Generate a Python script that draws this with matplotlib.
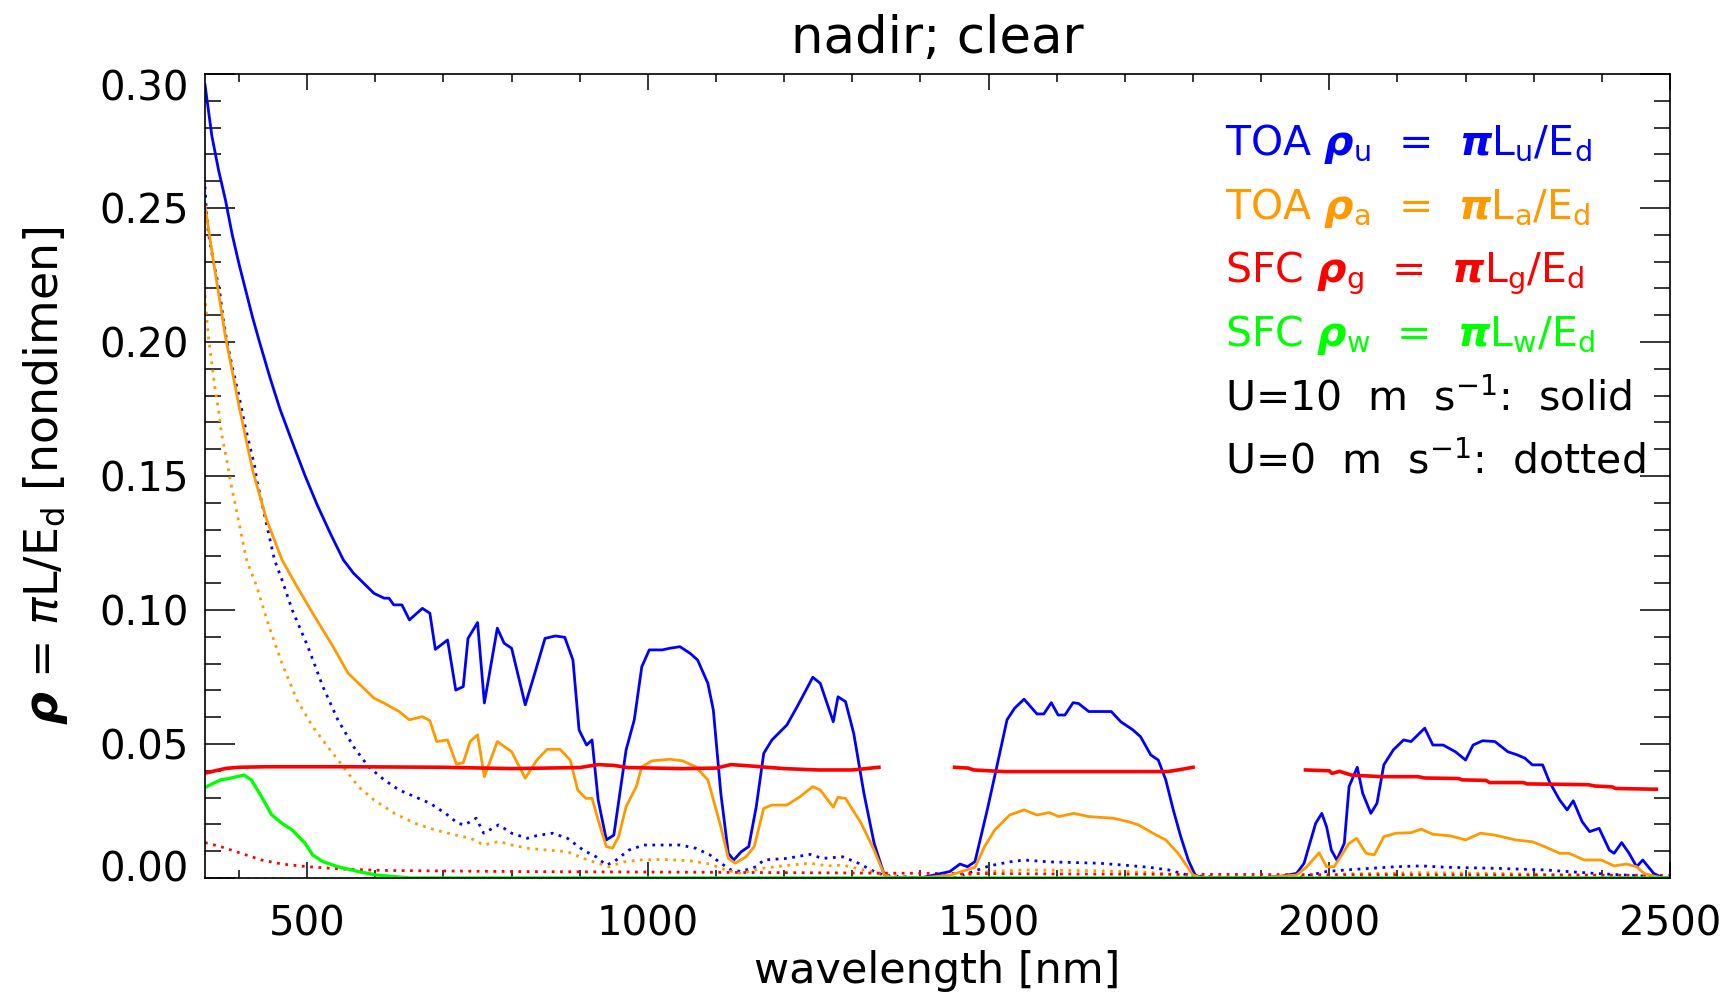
import numpy as np
import matplotlib
matplotlib.use("Agg")
import matplotlib.pyplot as plt
from matplotlib import ticker
from matplotlib.transforms import ScaledTranslation

plt.rcParams['font.family'] = ['DejaVu Sans']
plt.rcParams['mathtext.fontset'] = 'dejavusans'

# U=10 m/s (solid)
toa_u_nm = [350, 360, 370, 380, 390, 400, 410, 420, 430, 445, 460, 479, 497, 515, 535,
            553, 568, 598, 613, 620, 627, 639, 650, 669, 680, 688, 706, 718, 729, 736, 750,
            760, 779, 789, 800, 820, 834, 849, 864, 878, 890, 899, 910, 918, 927, 939, 950,
            968, 980, 991, 1002, 1021, 1032, 1047, 1062, 1073, 1088, 1096, 1107, 1118, 1126,
            1137, 1148, 1159, 1170, 1182, 1204, 1219, 1242, 1253, 1272, 1279, 1290, 1302, 1317,
            1332, 1347, 1360, 1400, 1443, 1458, 1469, 1480, 1498, 1512, 1527, 1538, 1552, 1571,
            1581, 1592, 1602, 1612, 1624, 1632, 1647, 1680, 1694, 1712, 1723, 1738, 1749, 1760,
            1771, 1782, 1793, 1803, 1814, 1900, 1931, 1952, 1963, 1970, 1980, 1989, 1996, 2003,
            2011, 2022, 2029, 2041, 2049, 2061, 2070, 2080, 2094, 2109, 2120, 2140, 2152, 2167,
            2185, 2200, 2211, 2225, 2243, 2262, 2276, 2287, 2298, 2313, 2323, 2338, 2349, 2358,
            2371, 2382, 2396, 2411, 2418, 2429, 2440, 2451, 2460, 2476, 2490, 2500]
toa_u = [0.296, 0.277, 0.264, 0.253, 0.240, 0.229, 0.219, 0.209, 0.200, 0.187, 0.175,
         0.162, 0.150, 0.139, 0.128, 0.1187, 0.1137, 0.1062, 0.1044, 0.1044, 0.1019, 0.1019,
         0.0963, 0.1006, 0.0988, 0.0853, 0.0888, 0.0701, 0.0714, 0.0894, 0.0953, 0.0653,
         0.0932, 0.0876, 0.0857, 0.0646, 0.0764, 0.0894, 0.0903, 0.0898, 0.0813, 0.0552,
         0.0496, 0.0515, 0.0291, 0.0142, 0.0160, 0.0478, 0.0590, 0.0788, 0.0851, 0.0851,
         0.0857, 0.0863, 0.0838, 0.0813, 0.0726, 0.0627, 0.0316, 0.0092, 0.0067, 0.0098,
         0.0117, 0.0266, 0.0465, 0.0515, 0.0571, 0.0639, 0.0749, 0.0726, 0.0583, 0.0676,
         0.0658, 0.0540, 0.0316, 0.0129, 0.0011, 0.0, 0.0, 0.0024, 0.0052, 0.0042, 0.0061,
         0.0254, 0.0415, 0.0590, 0.0633, 0.0667, 0.0612, 0.0612, 0.0654, 0.0608, 0.0608,
         0.0654, 0.0651, 0.0621, 0.0621, 0.0583, 0.0552, 0.0527, 0.0459, 0.0440, 0.0366,
         0.0254, 0.0154, 0.0067, 0.0011, 0.0, 0.0, 0.0007, 0.0017, 0.0055, 0.0117, 0.0204,
         0.0241, 0.0191, 0.0104, 0.0067, 0.0129, 0.0341, 0.0413, 0.0316, 0.0241, 0.0279,
         0.0422, 0.0478, 0.0515, 0.0509, 0.0559, 0.0496, 0.0496, 0.0471, 0.0440, 0.0496,
         0.0512, 0.0509, 0.0471, 0.0459, 0.0447, 0.0422, 0.0422, 0.0359, 0.0291, 0.0254,
         0.0288, 0.0210, 0.0173, 0.0185, 0.0104, 0.0092, 0.0132, 0.0092, 0.0042, 0.0067,
         0.0017, 0.0, 0.0]

toa_a_nm = [350, 360, 370, 380, 390, 400, 410, 420, 440, 463, 485, 508, 538, 560,
            598, 613, 635, 650, 669, 680, 690, 706, 719, 729, 739, 750, 760, 779, 800, 820,
            837, 852, 871, 886, 897, 909, 918, 927, 939, 948, 957, 968, 983, 991, 1006, 1032,
            1051, 1070, 1088, 1107, 1118, 1128, 1144, 1156, 1170, 1182, 1204, 1223, 1242, 1253,
            1272, 1279, 1290, 1313, 1332, 1347, 1360, 1400, 1443, 1480, 1494, 1509, 1531, 1552,
            1571, 1589, 1603, 1625, 1647, 1683, 1705, 1720, 1741, 1760, 1778, 1800, 1814, 1900,
            1952, 1967, 1985, 1996, 2007, 2029, 2040, 2054, 2066, 2080, 2098, 2120, 2135, 2152,
            2178, 2200, 2222, 2243, 2273, 2298, 2316, 2338, 2352, 2374, 2399, 2418, 2436, 2451,
            2462, 2476, 2490, 2500]
toa_a = [0.251, 0.234, 0.218, 0.202, 0.189, 0.176, 0.164, 0.152,
         0.134, 0.1187, 0.1087, 0.0988, 0.0863, 0.0764, 0.0671, 0.0652, 0.0621, 0.0590,
         0.0602, 0.0587, 0.0509, 0.0515, 0.0425, 0.0430, 0.0509, 0.0534, 0.0378, 0.0509,
         0.0471, 0.0372, 0.0440, 0.0480, 0.0480, 0.0440, 0.0328, 0.0297, 0.0297, 0.0216,
         0.0117, 0.0111, 0.0154, 0.0266, 0.0341, 0.0415, 0.0437, 0.0443, 0.0437, 0.0415,
         0.0366, 0.0191, 0.0073, 0.0055, 0.0079, 0.0117, 0.0260, 0.0272, 0.0272, 0.0303,
         0.0341, 0.0328, 0.0264, 0.0301, 0.0297, 0.0204, 0.0104, 0.0011, 0.0, 0.0, 0.0010,
         0.0040, 0.0117, 0.0179, 0.0235, 0.0254, 0.0235, 0.0244, 0.0229, 0.0241, 0.0229,
         0.0223, 0.0210, 0.0198, 0.0167, 0.0142, 0.0092, 0.0011, 0.0, 0.0, 0.0011, 0.0042,
         0.0094, 0.0042, 0.0042, 0.0129, 0.0148, 0.0092, 0.0086, 0.0154, 0.0167, 0.0169,
         0.0182, 0.0163, 0.0157, 0.0142, 0.0167, 0.0160, 0.0142, 0.0135, 0.0117, 0.0092,
         0.0092, 0.0067, 0.0067, 0.0045, 0.0052, 0.0042, 0.0017, 0.0007, 0.0, 0.0]

sfc_g_nm = [350, 365, 381, 400, 440, 560, 700, 760, 800, 850, 900, 927, 950, 970, 1050, 1100,
            1122, 1150, 1200, 1250, 1300, 1320, 1339, 1395, 1450, 1470, 1478, 1523, 1763, 1778,
            1800, 1880, 1965, 2000, 2004, 2015, 2032, 2076, 2130, 2140, 2190, 2195, 2230, 2235,
            2285, 2290, 2380, 2390, 2415, 2420, 2480]
sfc_g = [0.0391, 0.0400, 0.0409, 0.0413, 0.0415, 0.0415, 0.0413, 0.0410, 0.0408, 0.0410,
         0.0412, 0.0423, 0.0420, 0.0412, 0.0408, 0.0410, 0.0423, 0.0418, 0.0408, 0.0403,
         0.0403, 0.0408, 0.0413, np.nan, 0.0413, 0.0410, 0.0403, 0.0397, 0.0397, 0.0403,
         0.0413, np.nan, 0.0403, 0.0400, 0.0390, 0.0398, 0.0384, 0.0378, 0.0378, 0.0373,
         0.0371, 0.0366, 0.0364, 0.0356, 0.0356, 0.0351, 0.0348, 0.0343, 0.0340, 0.0334,
         0.0331]

sfc_w_nm = [350, 373, 385, 407, 418, 433, 448, 463, 478, 497, 508, 523, 545, 575, 601, 650, 2500]
sfc_w = [0.0338, 0.0366, 0.0371, 0.0384, 0.0366, 0.0303, 0.0235, 0.0204, 0.0179, 0.0129,
         0.0086, 0.0061, 0.0042, 0.0024, 0.0011, 0.0, 0.0]

# U=0 m/s (dotted)
toa_u0_nm = [350, 352, 355, 362, 372, 377, 382, 391, 399, 409, 423, 426, 452, 463, 478, 501,
             523, 545, 568, 590, 613, 635, 658, 680, 703, 721, 731, 748, 759, 781, 800, 823,
             837, 860, 882, 905, 924, 939, 950, 972, 994, 1047, 1070, 1091, 1107, 1122, 1137,
             1159, 1170, 1204, 1238, 1256, 1286, 1309, 1332, 1347, 1400, 1450, 1501, 1531, 1552,
             1589, 1662, 1698, 1735, 1764, 1793, 1850, 1952, 1996, 2025, 2061, 2098, 2135, 2171,
             2243, 2316, 2389, 2462, 2500]
toa_u0 = [0.258, 0.249, 0.2405, 0.2306, 0.218, 0.208, 0.2004, 0.1896, 0.1809, 0.1684, 0.1535,
          0.1485, 0.1187, 0.1112, 0.1000, 0.0863, 0.0714, 0.0590, 0.0490, 0.0415, 0.0366,
          0.0328, 0.0303, 0.0279, 0.0241, 0.0204, 0.0198, 0.0223, 0.0167, 0.0198, 0.0167,
          0.0148, 0.0158, 0.0167, 0.0148, 0.0104, 0.0079, 0.0048, 0.0060, 0.0104, 0.0123,
          0.0123, 0.0111, 0.0086, 0.0055, 0.0030, 0.0024, 0.0042, 0.0067, 0.0073, 0.0088,
          0.0073, 0.0079, 0.0055, 0.0024, 0.0010, 0.0, 0.0, 0.0045, 0.0060, 0.0067, 0.0060,
          0.0055, 0.0048, 0.0040, 0.0030, 0.0010, 0.0, 0.0, 0.0024, 0.0030, 0.0036, 0.0042,
          0.0045, 0.0040, 0.0036, 0.0030, 0.0017, 0.0007, 0.0]

toa_a0_nm = [350, 352, 355, 360, 365, 370, 374, 382, 387, 411, 426, 444, 463, 485, 508, 530,
             553, 575, 598, 628, 658, 688, 718, 740, 759, 781, 800, 823, 852, 882, 905, 927,
             942, 965, 987, 1024, 1062, 1091, 1114, 1137, 1167, 1197, 1238, 1264, 1286, 1317,
             1347, 1400, 1450, 1501, 1552, 1662, 1735, 1793, 1850, 1952, 2025, 2135, 2243, 2389,
             2462, 2500]
toa_a0 = [0.2175, 0.2108, 0.2020, 0.192, 0.182, 0.1746, 0.166, 0.156, 0.1485, 0.1187, 0.1087,
          0.0938, 0.0801, 0.0664, 0.0565, 0.0490, 0.0415, 0.0341, 0.0291, 0.0241, 0.0204,
          0.0179, 0.0160, 0.0148, 0.0123, 0.0136, 0.0123, 0.0111, 0.0104, 0.0098, 0.0073,
          0.0055, 0.0042, 0.0060, 0.0067, 0.0069, 0.0064, 0.0052, 0.0030, 0.0017, 0.0036,
          0.0045, 0.0055, 0.0045, 0.0048, 0.0030, 0.0010, 0.0, 0.0, 0.0024, 0.0030, 0.0027,
          0.0021, 0.0007, 0.0, 0.0, 0.0015, 0.0020, 0.0017, 0.0010, 0.0, 0.0]

sfc_g0_nm = [350, 373, 403, 433, 463, 500, 553, 613, 800, 1100, 1350, 1600, 2000, 2500]
sfc_g0 = [0.0132, 0.0117, 0.0092, 0.0067, 0.0052, 0.0042, 0.0033, 0.0028, 0.0024, 0.0021,
          0.0018, 0.0015, 0.0012, 0.0010]

sfc_w0_nm = [350, 2500]
sfc_w0 = [0.0, 0.0]

y_ticks = [0.00, 0.05, 0.10, 0.15, 0.20, 0.25, 0.30]

blue, orange, red, green = '#0000ff', '#ff9900', '#ff0000', '#00ff00'

fig = plt.figure(figsize=(17.27, 9.97), dpi=100)
ax = fig.add_axes([0.1187, 0.1194, 0.8483, 0.8064])

dot = (0, (1, 2))
ax.plot(toa_u0_nm, toa_u0, color=blue, lw=2, linestyle=dot)
ax.plot(toa_a0_nm, toa_a0, color=orange, lw=2, linestyle=dot)
ax.plot(sfc_g0_nm, sfc_g0, color=red, lw=2, linestyle=dot)
ax.plot(sfc_w0_nm, sfc_w0, color=green, lw=2, linestyle=dot)

ax.plot(toa_u_nm, toa_u, color=blue, lw=2)
ax.plot(toa_a_nm, toa_a, color=orange, lw=2)
ax.plot(sfc_g_nm, sfc_g, color=red, lw=2.6)
ax.plot(sfc_w_nm, sfc_w, color=green, lw=2.4)

ax.set_xlim(350, 2500)
ax.set_ylim(0, 0.30)
ax.xaxis.set_major_locator(ticker.MultipleLocator(500))
ax.xaxis.set_minor_locator(ticker.MultipleLocator(100))
ax.set_yticks(y_ticks)
ax.yaxis.set_minor_locator(ticker.MultipleLocator(0.01))

ax.tick_params(axis='both', which='both', direction='in', top=True, right=True,
               width=1.1, labelsize=29, color='black')
ax.tick_params(axis='x', which='major', length=11.5, pad=19)
ax.tick_params(axis='x', which='minor', length=5.8)
ax.tick_params(axis='y', which='major', length=21.6, labelleft=False)
ax.tick_params(axis='y', which='minor', length=11.5)
for s in ax.spines.values():
    s.set_linewidth(1.2)

# y labels drawn by hand: the end ones sit inside the frame, as in the original
ylab_tr = ax.get_yaxis_transform()
for i, v in enumerate(y_ticks):
    shift = 12 if i == 0 else (-11 if i == len(y_ticks) - 1 else 0)
    tr = ylab_tr + ScaledTranslation(-16 / 100, shift / 100, fig.dpi_scale_trans)
    ax.text(0, v, f"{v:.2f}", fontsize=29, ha='right', va='center_baseline', transform=tr)

fig.text(0.5425, 1 - 53 / 997, "nadir; clear", fontsize=37, ha='center', va='baseline')
fig.text(0.5425, 1 - 983 / 997, "wavelength [nm]", fontsize=31, ha='center', va='baseline')
fig.text(0.0266, 0.5226, r"$\boldsymbol{\rho}$ = $\pi$L/E$_{\rm d}$ [nondimen]",
         fontsize=33, rotation=90, ha='center', va='center')

legend_lines = [
    (r"TOA $\boldsymbol{\rho}_{\rm u}$  =  $\boldsymbol{\pi}$L$_{\rm u}$/E$_{\rm d}$", blue),
    (r"TOA $\boldsymbol{\rho}_{\rm a}$  =  $\boldsymbol{\pi}$L$_{\rm a}$/E$_{\rm d}$", orange),
    (r"SFC $\boldsymbol{\rho}_{\rm g}$  =  $\boldsymbol{\pi}$L$_{\rm g}$/E$_{\rm d}$", red),
    (r"SFC $\boldsymbol{\rho}_{\rm w}$  =  $\boldsymbol{\pi}$L$_{\rm w}$/E$_{\rm d}$", green),
    (r"U=10  m  s$^{-1}$:  solid", 'black'),
    (r"U=0  m  s$^{-1}$:  dotted", 'black'),
]
for i, (txt, c) in enumerate(legend_lines):
    ax.text(0.696, 0.899 - i * 0.0793, txt, color=c, fontsize=29.5,
            transform=ax.transAxes, ha='left', va='baseline')

plt.savefig("out.png", dpi=100)
